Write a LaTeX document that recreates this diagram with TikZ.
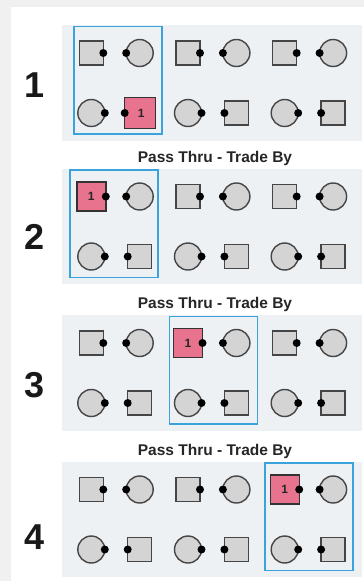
\documentclass[tikz,border=0pt]{standalone}
\usepackage{fontspec}
\setmainfont{Liberation Sans}
\definecolor{outerbg}{HTML}{F0F0F0}
\definecolor{panelbg}{HTML}{EEF1F4}
\definecolor{shapefill}{HTML}{D4D4D4}
\definecolor{shapeline}{HTML}{454545}
\definecolor{redfill}{HTML}{E8738F}
\definecolor{boxblue}{HTML}{3AA3DC}
\tikzset{
  sq/.style={rectangle, draw=shapeline, fill=shapefill, line width=1.4pt, minimum size=24pt, inner sep=0pt, outer sep=0pt},
  ci/.style={circle, draw=shapeline, fill=shapefill, line width=1.4pt, minimum size=27pt, inner sep=0pt, outer sep=0pt},
  redsq/.style={rectangle, draw=black!80, fill=redfill, line width=1.4pt, minimum size=29pt, inner sep=0pt, outer sep=0pt, text=black!85, font=\bfseries\fontsize{12}{12}\selectfont},
  pin/.style={circle, fill=black, minimum size=8pt, inner sep=0pt},
  panel/.style={fill=panelbg},
  hl/.style={draw=boxblue, line width=1.6pt},
  num/.style={inner sep=0pt, text=black!90, font=\bfseries\fontsize{36}{36}\selectfont},
  ttl/.style={inner sep=0pt, text=black!85, font=\bfseries\fontsize{15.5}{16}\selectfont}
}
\begin{document}
\begin{tikzpicture}[x=1pt,y=-1pt]
\fill[outerbg] (0,0) rectangle (364,581);
\fill[white] (11,7) rectangle (364,581);
\useasboundingbox (0,0) rectangle (364,581);
\foreach \pn/\tp/\hg/\ny/\bx in {1/25/0/85.5/117.8, 2/168.5/0/237/114, 3/315/1/385.5/213.5, 4/461.5/2/537/308.7}{
  \fill[panel] (62,\tp) rectangle (362,\tp+115.5);
  \foreach \g in {0,1,2}{
    \pgfmathsetmacro\xa{91.3+96.7*\g}
    \pgfmathsetmacro\xb{139.7+96.7*\g}
    \pgfmathsetmacro\ya{\tp+28}
    \pgfmathsetmacro\yb{\tp+88}
    \pgfmathtruncatemacro\reda{and(\pn>1,\g==\hg)}
    \pgfmathtruncatemacro\redb{and(\pn==1,\g==0)}
    \ifnum\reda=1
      \node[redsq] (p\pn-s1-\g) at (\xa,\ya) {1};
    \else
      \node[sq] (p\pn-s1-\g) at (\xa,\ya) {};
    \fi
    \node[ci] (p\pn-c1-\g) at (\xb,\ya) {};
    \node[ci] (p\pn-c2-\g) at (\xa,\yb) {};
    \ifnum\redb=1
      \node[redsq, minimum size=31pt] (p\pn-s2-\g) at (\xb+0.5,\yb) {\hspace*{2pt}1};
    \else
      \node[sq] (p\pn-s2-\g) at (\xb,\yb) {};
    \fi
    \node[pin] (p\pn-d1-\g) at (p\pn-s1-\g.east) {};
    \node[pin] (p\pn-d2-\g) at (p\pn-c1-\g.west) {};
    \node[pin] (p\pn-d3-\g) at (p\pn-c2-\g.east) {};
    \node[pin] (p\pn-d4-\g) at (p\pn-s2-\g.west) {};
  }
  \draw[hl] (\bx-44,\tp+1.5) rectangle (\bx+44,\tp+109);
  \node[num] (n\pn) at (35,\ny) {\pn};
  \ifnum\pn>1
    \node[ttl] (t\pn) at (215,\tp-10.5) {Pass Thru - Trade By};
  \fi
}
\end{tikzpicture}
\end{document}
